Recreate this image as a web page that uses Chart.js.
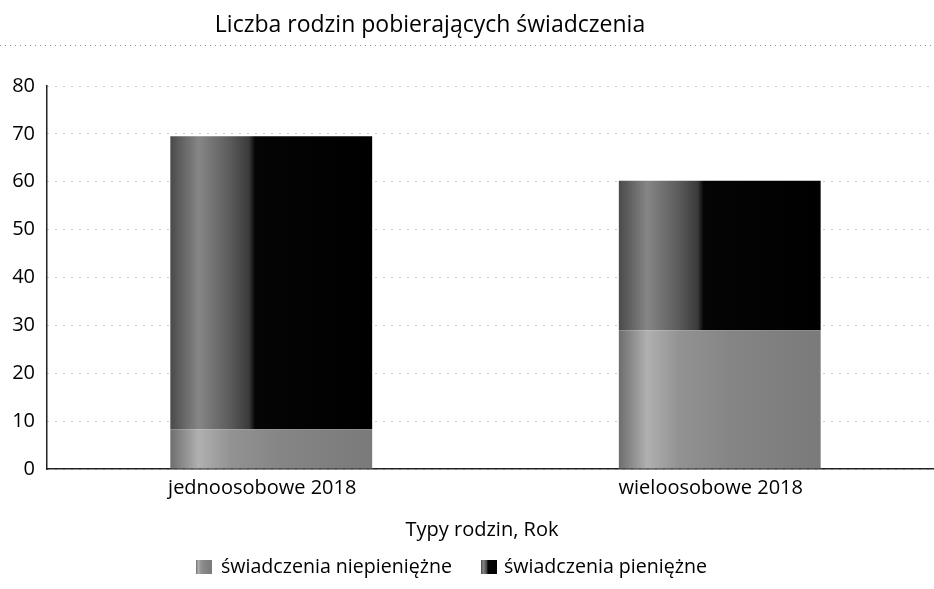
<!DOCTYPE html>
<html>
<head>
<meta charset="utf-8">
<script src="https://cdn.jsdelivr.net/npm/chart.js@4.4.1/dist/chart.umd.min.js"></script>
<style>
    html, body { margin: 0; padding: 0; background: #fff; overflow: hidden; }
    #wrap { width: 934px; height: 589px; overflow: hidden; }
</style>
</head>
<body>
<div id="wrap"><canvas id="chart" width="944" height="589"></canvas></div>
<script>
// Liczba rodzin pobierających świadczenia - stacked bars
const chartTitle = 'Liczba rodzin pobierających świadczenia';
const axisTitle = 'Typy rodzin, Rok';
const categories = ['jednoosobowe 2018', 'wieloosobowe 2018'];
const seriesNames = ['świadczenia niepieniężne', 'świadczenia pieniężne'];
const niepieniezne = [8.3, 29.0];
const pieniezne = [61.2, 31.2];
const yTicks = [0, 10, 20, 30, 40, 50, 60, 70, 80];

const FONT = '"Open Sans", "DejaVu Sans", sans-serif';

// horizontal shading, like the old 3d-ish bars
function shade(c, x0, x1, stops) {
    const g = c.createLinearGradient(x0, 0, x1, 0);
    stops.forEach(s => g.addColorStop(s[0], s[1]));
    return g;
}
const lightStops = [[0, '#6e6e6e'], [0.14, '#b0b0b0'], [0.3, '#929292'], [0.55, '#858585'], [1, '#7a7a7a']];
const darkStops = [[0, '#4a4a4a'], [0.14, '#868686'], [0.3, '#5a5a5a'], [0.39, '#3a3a3a'], [0.42, '#050505'], [1, '#000000']];

function barFill(stops) {
    return function (ctx) {
        const chart = ctx.chart;
        if (!chart.chartArea) return '#888';
        const xs = chart.scales.x;
        const w = (xs.width / categories.length) * 0.45;
        const cx = xs.getPixelForValue(ctx.dataIndex);
        return shade(chart.ctx, cx - w / 2, cx + w / 2, stops);
    };
}

const overlay = {
    id: 'overlay',
    afterDraw(chart) {
        const c = chart.ctx;
        c.save();
        c.fillStyle = '#000';
        c.textBaseline = 'middle';
        c.textAlign = 'center';
        c.font = '23px ' + FONT;
        c.fillText(chartTitle, 430, 25);

        // dotted rule under the title
        c.strokeStyle = 'rgba(0,0,0,0.45)';
        c.lineWidth = 1;
        c.setLineDash([1, 4]);
        c.beginPath();
        c.moveTo(0, 45.5);
        c.lineTo(934, 45.5);
        c.stroke();
        c.setLineDash([]);

        c.font = '20px ' + FONT;
        c.fillText(axisTitle, 482, 530);

        // legend
        c.textAlign = 'left';
        c.font = '19.6px ' + FONT;
        const items = [[196, 221, lightStops], [481, 504, darkStops]];
        items.forEach((it, i) => {
            c.fillStyle = shade(c, it[0], it[0] + 16, it[2]);
            c.fillRect(it[0], 560, 16, 14);
            c.fillStyle = '#000';
            c.fillText(seriesNames[i], it[1], 567);
        });
        c.restore();
    }
};

new Chart(document.getElementById('chart'), {
    type: 'bar',
    data: {
        labels: categories,
        datasets: [
            { label: seriesNames[0], data: niepieniezne, backgroundColor: barFill(lightStops) },
            { label: seriesNames[1], data: pieniezne, backgroundColor: barFill(darkStops) }
        ]
    },
    options: {
        responsive: false,
        animation: false,
        layout: { padding: { top: 86, left: 0, right: 0, bottom: 0 } },
        datasets: { bar: { categoryPercentage: 1, barPercentage: 0.45 } },
        plugins: {
            legend: { display: false },
            title: { display: false },
            tooltip: { enabled: false }
        },
        scales: {
            x: {
                stacked: true,
                grid: { display: false, drawTicks: false },
                border: { display: true, color: '#222', width: 1.5 },
                ticks: { color: '#000', font: { family: FONT, size: 20 }, padding: 7, labelOffset: -9 },
                afterFit: s => { s.height = 120; }
            },
            y: {
                stacked: true,
                min: 0,
                max: 80,
                afterBuildTicks: s => { s.ticks = yTicks.map(v => ({ value: v })); },
                grid: { color: 'rgba(0,0,0,0.4)', drawTicks: false },
                border: { display: true, color: '#222', width: 1.5, dash: [1, 7] },
                ticks: { color: '#000', font: { family: FONT, size: 20 }, padding: 12 },
                afterFit: s => { s.width = 47; }
            }
        }
    },
    plugins: [overlay]
});
</script>
</body>
</html>
